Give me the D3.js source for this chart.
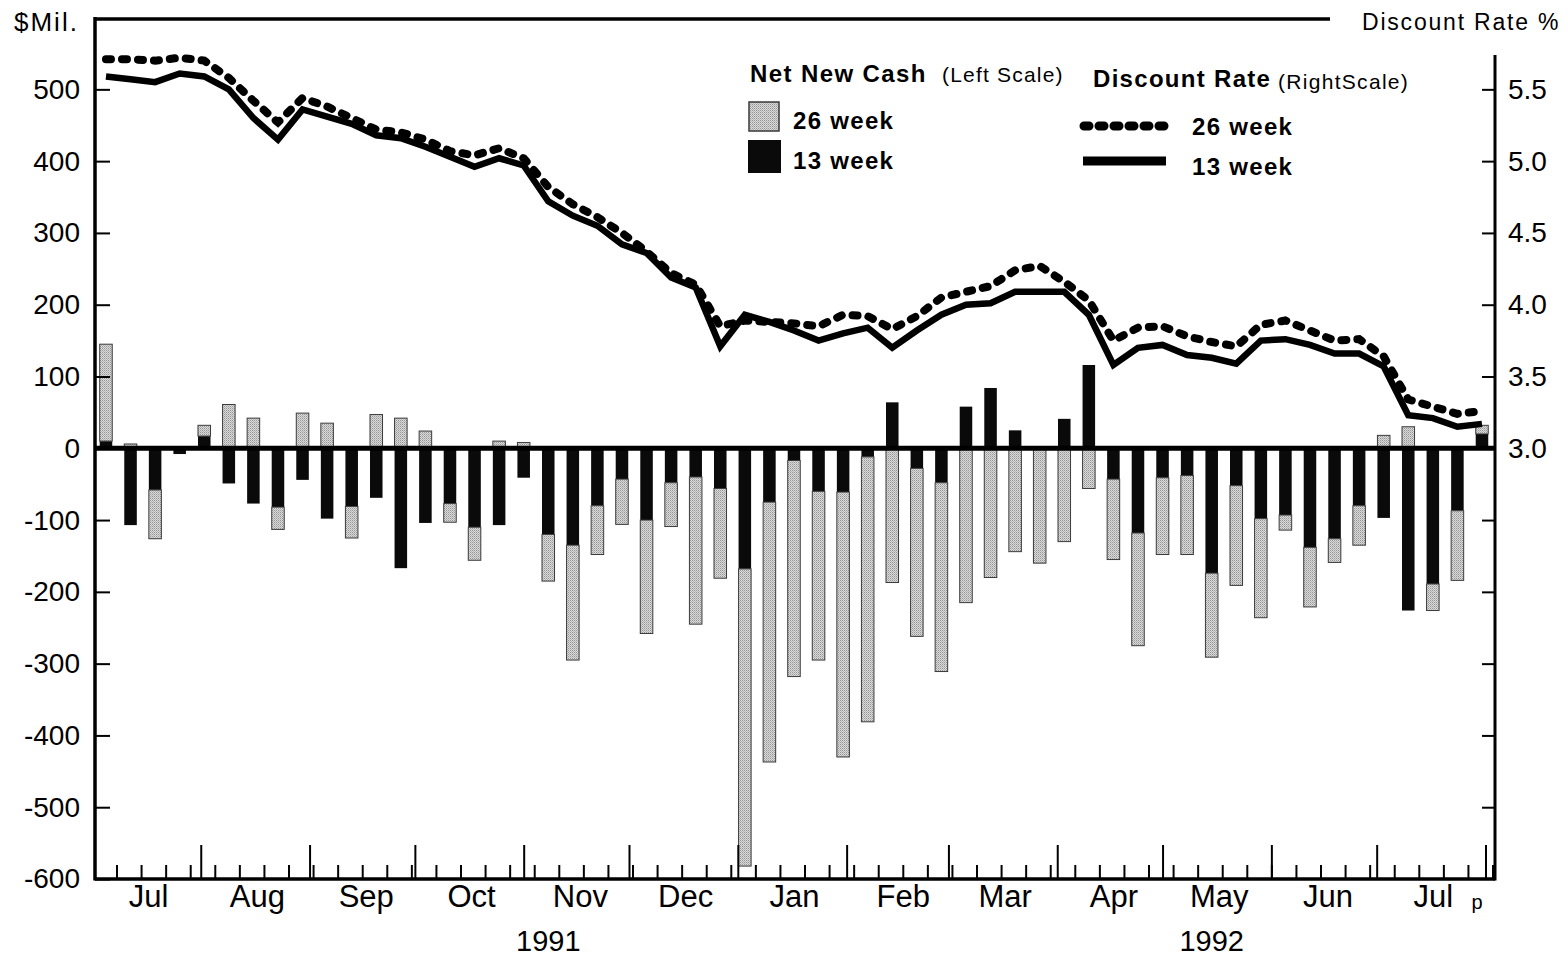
<!DOCTYPE html>
<html>
<head>
<meta charset="utf-8">
<script src="https://cdnjs.cloudflare.com/ajax/libs/d3/7.8.5/d3.min.js"></script>
<style>
  body { margin: 0; background: #fff; }
  svg text { font-family: "Liberation Sans", Arial, Helvetica, sans-serif; fill: #000; }
</style>
</head>
<body>
<script>
// Weekly auctions of 13 and 26 week bills, Jul 1991 - Jul 1992 (last week preliminary)
var weeks = [
  "1991-07-05", "1991-07-12", "1991-07-19", "1991-07-26",
  "1991-08-02", "1991-08-09", "1991-08-16", "1991-08-23", "1991-08-30",
  "1991-09-06", "1991-09-13", "1991-09-20", "1991-09-27",
  "1991-10-04", "1991-10-11", "1991-10-18", "1991-10-25",
  "1991-11-01", "1991-11-08", "1991-11-15", "1991-11-22", "1991-11-29",
  "1991-12-06", "1991-12-13", "1991-12-20", "1991-12-27",
  "1992-01-03", "1992-01-10", "1992-01-17", "1992-01-24", "1992-01-31",
  "1992-02-07", "1992-02-14", "1992-02-21", "1992-02-28",
  "1992-03-06", "1992-03-13", "1992-03-20", "1992-03-27",
  "1992-04-03", "1992-04-10", "1992-04-17", "1992-04-24",
  "1992-05-01", "1992-05-08", "1992-05-15", "1992-05-22", "1992-05-29",
  "1992-06-05", "1992-06-12", "1992-06-19", "1992-06-26",
  "1992-07-03", "1992-07-10", "1992-07-17", "1992-07-24", "1992-07-31"
];

// net new cash, $Mil. (left scale)
var cash13 = [10, -107, -58, -8, 17, -49, -77, -82, -44, -98, -81, -69, -167, -104, -77, -110,
  -107, -41, -120, -135, -80, -43, -100, -48, -40, -56, -168, -75, -17, -60, -61, -12,
  64, -28, -48, 58, 84, 25, 0, 41, 116, -43, -118, -41, -38, -174, -52, -98,
  -93, -138, -126, -80, -97, -226, -189, -87, 20];
var cash26 = [135, 6, -68, 0, 15, 61, 42, -31, 49, 35, -44, 47, 42, 24, -26, -46,
  10, 8, -65, -160, -68, -63, -158, -61, -205, -125, -414, -362, -301, -235, -369, -369,
  -187, -234, -263, -215, -180, -144, -160, -130, -56, -112, -157, -107, -110, -117, -139, -138,
  -21, -83, -33, -55, 18, 30, -37, -97, 12];

// discount rate, % (right scale)
var rate13 = [5.59, 5.57, 5.55, 5.61, 5.59, 5.50, 5.30, 5.15, 5.36, 5.31, 5.26, 5.18, 5.16, 5.10, 5.03, 4.96,
  5.02, 4.97, 4.72, 4.62, 4.55, 4.42, 4.36, 4.19, 4.12, 3.71, 3.93, 3.88, 3.82, 3.75, 3.80, 3.84,
  3.70, 3.82, 3.93, 4.00, 4.01, 4.09, 4.09, 4.09, 3.93, 3.58, 3.70, 3.72, 3.65, 3.63, 3.59, 3.75,
  3.76, 3.72, 3.66, 3.66, 3.57, 3.23, 3.21, 3.15, 3.17];
var rate26 = [5.71, 5.71, 5.70, 5.72, 5.70, 5.58, 5.42, 5.27, 5.44, 5.38, 5.30, 5.22, 5.20, 5.15, 5.07, 5.04,
  5.09, 5.02, 4.82, 4.70, 4.61, 4.50, 4.37, 4.22, 4.14, 3.85, 3.89, 3.88, 3.87, 3.85, 3.93, 3.92,
  3.83, 3.92, 4.05, 4.09, 4.13, 4.24, 4.27, 4.16, 4.03, 3.75, 3.84, 3.85, 3.78, 3.74, 3.71, 3.86,
  3.89, 3.82, 3.75, 3.76, 3.64, 3.34, 3.29, 3.24, 3.26];

var leftTicks = [-600, -500, -400, -300, -200, -100, 0, 100, 200, 300, 400, 500];
var rightTicks = [0.5, 1.0, 1.5, 2.0, 2.5, 3.0, 3.5, 4.0, 4.5, 5.0, 5.5];
var monthLabels = ["1991-07-17", "1991-08-17", "1991-09-17", "1991-10-17", "1991-11-17", "1991-12-17",
  "1992-01-17", "1992-02-17", "1992-03-17", "1992-04-17", "1992-05-17", "1992-06-17", "1992-07-17"];
var yearLabels = [{date: "1991-11-08", text: "1991"}, {date: "1992-05-15", text: "1992"}];

window.onload = function()
{
  var width = 1568, height = 959;
  var left = 95, right = 1495, top = 19, bottom = 879;
  var parse = d3.utcParse("%Y-%m-%d");

  var table = weeks.map(function(w, i) {
    return {date: parse(w), w13: cash13[i], w26: cash26[i], r13: rate13[i], r26: rate26[i]};
  });

  var svg = d3.select("body").append("svg")
      .attr("width", width)
      .attr("height", height);

  // scales
  var x = d3.scaleUtc()
      .domain([Date.UTC(1991, 6, 1, 21), Date.UTC(1992, 7, 3, 17)])
      .range([left, right]);
  var y = d3.scaleLinear()
      .domain([-600, 598])
      .range([bottom, top]);
  // right scale: 3.0% sits on the zero line, 0.5% per 100 $Mil.
  var yR = d3.scaleLinear()
      .domain([3 + y.domain()[0] / 200, 3 + y.domain()[1] / 200])
      .range([bottom, top]);

  var weekWidth = x(parse(weeks[1])) - x(parse(weeks[0]));
  var barWidth = weekWidth * 0.51;

  // stipple fill for the 26 week bars
  var pat = svg.append("defs").append("pattern")
      .attr("id", "stipple")
      .attr("width", 2).attr("height", 2)
      .attr("patternUnits", "userSpaceOnUse");
  pat.append("rect").attr("width", 2).attr("height", 2).attr("fill", "#dadada");
  pat.append("rect").attr("width", 1).attr("height", 1).attr("fill", "#959595");
  pat.append("rect").attr("x", 1).attr("y", 1).attr("width", 1).attr("height", 1).attr("fill", "#b4b4b4");

  // stacked bars, 13 week first then 26 week on top of it
  var series = d3.stack()
      .keys(["w13", "w26"])
      .offset(d3.stackOffsetDiverging)(table);

  svg.append("g").selectAll("g")
      .data(series)
    .enter().append("g")
      .attr("fill", function(d) { return d.key == "w13" ? "#0a0a0a" : "url(#stipple)"; })
      .attr("stroke", function(d) { return d.key == "w13" ? "none" : "#3a3a3a"; })
      .attr("stroke-width", 1)
    .selectAll("rect")
      .data(function(d) { return d; })
    .enter().append("rect")
      .attr("x", function(d) { return x(d.data.date) - barWidth / 2; })
      .attr("y", function(d) { return y(Math.max(d[0], d[1])); })
      .attr("width", barWidth)
      .attr("height", function(d) { return Math.abs(y(d[0]) - y(d[1])); });

  // zero line
  svg.append("line")
      .attr("x1", left).attr("x2", right)
      .attr("y1", y(0)).attr("y2", y(0))
      .attr("stroke", "#000").attr("stroke-width", 5);

  // discount rate lines
  var line26 = d3.line()
      .x(function(d) { return x(d.date); })
      .y(function(d) { return yR(d.r26); });
  var line13 = d3.line()
      .x(function(d) { return x(d.date); })
      .y(function(d) { return yR(d.r13); });

  svg.append("path")
      .datum(table)
      .attr("d", line26)
      .attr("fill", "none")
      .attr("stroke", "#000")
      .attr("stroke-width", 8)
      .attr("stroke-linecap", "round")
      .attr("stroke-dasharray", "5,11");

  svg.append("path")
      .datum(table)
      .attr("d", line13)
      .attr("fill", "none")
      .attr("stroke", "#000")
      .attr("stroke-width", 6.5)
      .attr("stroke-linejoin", "miter");

  // left axis (plain hyphen for negatives, like the original)
  var leftAxis = svg.append("g")
      .attr("transform", "translate(" + left + ",0)")
      .call(d3.axisLeft(y).tickValues(leftTicks).tickSizeInner(-15).tickSizeOuter(0).tickPadding(15)
        .tickFormat(function(v) { return String(v); }));
  leftAxis.select(".domain").remove();
  leftAxis.selectAll(".tick line").attr("stroke-width", 2);
  leftAxis.selectAll("text").style("font-size", "28px");

  // right axis, labels only from 3.0 up
  var rightAxis = svg.append("g")
      .attr("transform", "translate(" + right + ",0)")
      .call(d3.axisRight(yR).tickValues(rightTicks).tickSizeInner(-13).tickSizeOuter(0).tickPadding(13)
        .tickFormat(function(v) { return v >= 3 ? v.toFixed(1) : ""; }));
  rightAxis.select(".domain").remove();
  rightAxis.selectAll(".tick line").attr("stroke-width", 2);
  rightAxis.selectAll("text").style("font-size", "28px");

  // bottom axis: weekly ticks, month ticks, month names
  var weekAxis = svg.append("g")
      .attr("transform", "translate(0," + bottom + ")")
      .call(d3.axisBottom(x).ticks(d3.utcMonday.every(1)).tickSizeInner(-14).tickSizeOuter(0)
        .tickFormat(function() { return ""; }));
  weekAxis.select(".domain").remove();
  weekAxis.selectAll(".tick line").attr("stroke-width", 2);

  var monthAxis = svg.append("g")
      .attr("transform", "translate(0," + bottom + ")")
      .call(d3.axisBottom(x).ticks(d3.utcMonth.every(1)).tickSizeInner(-34).tickSizeOuter(0)
        .tickFormat(function() { return ""; }));
  monthAxis.select(".domain").remove();
  monthAxis.selectAll(".tick line").attr("stroke-width", 2);

  var labelAxis = svg.append("g")
      .attr("transform", "translate(0," + bottom + ")")
      .call(d3.axisBottom(x).tickValues(monthLabels.map(parse)).tickSize(0).tickPadding(6)
        .tickFormat(d3.utcFormat("%b")));
  labelAxis.select(".domain").remove();
  labelAxis.selectAll("text").style("font-size", "31px");

  svg.selectAll(".year")
      .data(yearLabels)
    .enter().append("text")
      .attr("class", "year")
      .attr("x", function(d) { return x(parse(d.date)); })
      .attr("y", 951)
      .attr("text-anchor", "middle")
      .style("font-size", "29px")
      .text(function(d) { return d.text; });

  // "p" = preliminary, under the last week
  svg.append("text")
      .attr("x", x(parse(weeks[weeks.length - 1])) - 5)
      .attr("y", 909)
      .attr("text-anchor", "middle")
      .style("font-size", "20px")
      .text("p");

  // frame lines
  var frame = svg.append("g").attr("stroke", "#000");
  frame.append("line").attr("x1", left).attr("x2", left).attr("y1", top - 2).attr("y2", bottom + 1.5).attr("stroke-width", 3.5);
  frame.append("line").attr("x1", left).attr("x2", 1330).attr("y1", top).attr("y2", top).attr("stroke-width", 3.5);
  frame.append("line").attr("x1", right).attr("x2", right).attr("y1", yR(5.74)).attr("y2", bottom + 1.5).attr("stroke-width", 3);
  frame.append("line").attr("x1", left).attr("x2", right).attr("y1", bottom).attr("y2", bottom).attr("stroke-width", 3.5);

  // axis titles
  svg.append("text")
      .attr("x", 14).attr("y", 31)
      .style("font-size", "26px").style("letter-spacing", "2px")
      .text("$Mil.");
  svg.append("text")
      .attr("x", 1362).attr("y", 30)
      .style("font-size", "23px").style("letter-spacing", "1.8px")
      .text("Discount Rate %");

  // legend, net new cash
  var legend = svg.append("g");
  legend.append("text").attr("x", 750).attr("y", 82)
      .style("font-size", "24px").style("font-weight", "bold").style("letter-spacing", "1.4px")
      .text("Net New Cash");
  legend.append("text").attr("x", 942).attr("y", 82)
      .style("font-size", "21px").style("letter-spacing", "1.2px")
      .text("(Left Scale)");
  legend.append("rect").attr("x", 749).attr("y", 102).attr("width", 30).attr("height", 29)
      .attr("fill", "url(#stipple)").attr("stroke", "#3a3a3a").attr("stroke-width", 1.5);
  legend.append("rect").attr("x", 748).attr("y", 140).attr("width", 33).attr("height", 33)
      .attr("fill", "#0a0a0a");
  legend.append("text").attr("x", 793).attr("y", 129)
      .style("font-size", "24px").style("font-weight", "bold").style("letter-spacing", "1.3px")
      .text("26 week");
  legend.append("text").attr("x", 793).attr("y", 169)
      .style("font-size", "24px").style("font-weight", "bold").style("letter-spacing", "1.3px")
      .text("13 week");

  // legend, discount rate
  legend.append("text").attr("x", 1093).attr("y", 87)
      .style("font-size", "24px").style("font-weight", "bold").style("letter-spacing", "1.3px")
      .text("Discount Rate");
  legend.append("text").attr("x", 1278).attr("y", 89)
      .style("font-size", "21px").style("letter-spacing", "1.3px")
      .text("(RightScale)");
  legend.append("line").attr("x1", 1084).attr("x2", 1168).attr("y1", 126).attr("y2", 126)
      .attr("stroke", "#000").attr("stroke-width", 9)
      .attr("stroke-linecap", "round").attr("stroke-dasharray", "5,10");
  legend.append("line").attr("x1", 1083).attr("x2", 1166).attr("y1", 161).attr("y2", 161)
      .attr("stroke", "#000").attr("stroke-width", 9);
  legend.append("text").attr("x", 1192).attr("y", 135)
      .style("font-size", "24px").style("font-weight", "bold").style("letter-spacing", "1.3px")
      .text("26 week");
  legend.append("text").attr("x", 1192).attr("y", 175)
      .style("font-size", "24px").style("font-weight", "bold").style("letter-spacing", "1.3px")
      .text("13 week");
};
</script>
</body>
</html>
